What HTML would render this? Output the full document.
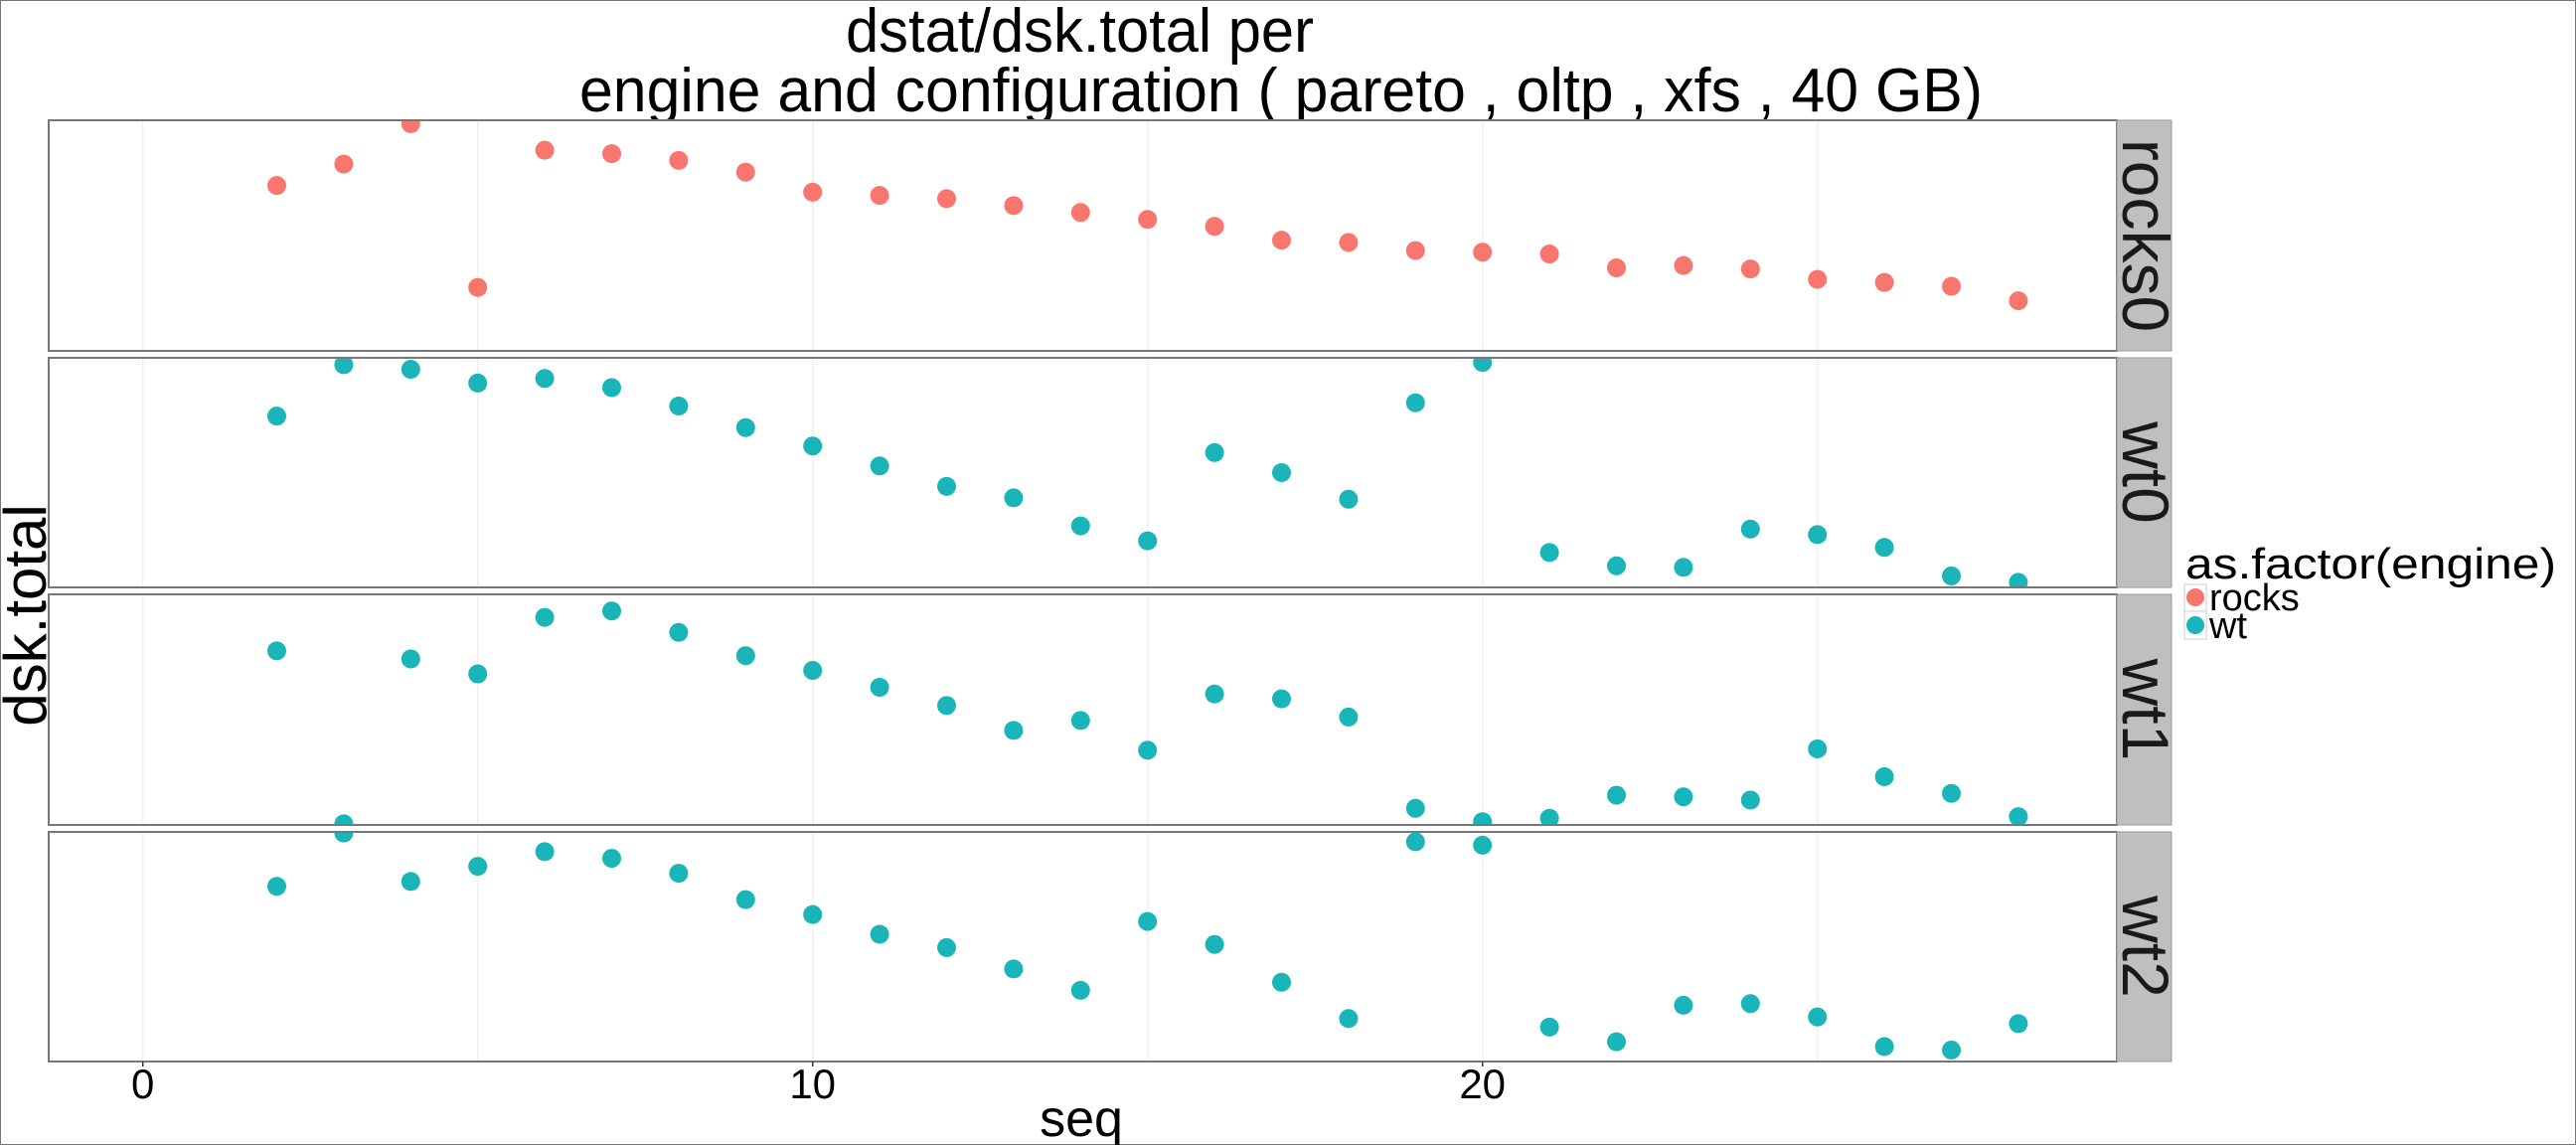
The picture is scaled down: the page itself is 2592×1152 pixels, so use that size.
<!DOCTYPE html>
<html><head><meta charset="utf-8"><style>
html,body{margin:0;padding:0;background:#fff;}
svg{display:block;font-family:"Liberation Sans",sans-serif;}
</style></head><body>
<svg id="chart" width="2592" height="1152" viewBox="0 0 2592 1152" xmlns="http://www.w3.org/2000/svg">
<rect x="0.5" y="0.5" width="2591" height="1151" fill="#fff" stroke="#777" stroke-width="1"/>
<text x="851" y="52" font-size="62" textLength="471" lengthAdjust="spacingAndGlyphs">dstat/dsk.total per</text>
<text x="583" y="112" font-size="62" textLength="1412" lengthAdjust="spacingAndGlyphs">engine and configuration ( pareto , oltp , xfs ,  40 GB)</text>
<text transform="translate(46,619) rotate(-90)" text-anchor="middle" font-size="60">dsk.total</text>
<text x="1088" y="1143" text-anchor="middle" font-size="52">seq</text>
<g id="panels"></g>
<g id="xaxis"></g>
<g>
<text x="2199" y="582" font-size="44" textLength="373" lengthAdjust="spacingAndGlyphs">as.factor(engine)</text>
<rect x="2198" y="588" width="22" height="27" fill="#fff" stroke="#ccc"/>
<circle cx="2209" cy="601" r="9" fill="#F8766D"/>
<text x="2223" y="614" font-size="38">rocks</text>
<rect x="2198" y="615" width="22" height="28" fill="#fff" stroke="#ccc"/>
<circle cx="2209" cy="629" r="9" fill="#1AB5B8"/>
<text x="2223" y="642" font-size="38">wt</text>
</g>
</svg>
<script>
const panelNames = ["rocks0","wt0","wt1","wt2"];
const panelEngines = ["rocks","wt","wt","wt"];
const seqRocks0 = [2,3,4,5,6,7,8,9,10,11,12,13,14,15,16,17,18,19,20,21,22,23,24,25,26,27,28];
const valRocks0 = [71.7,81,98.5,27.5,87,85.5,82.6,77.5,68.8,67.4,66,63,60,57,54,48,47,43.5,42.8,42,36,37,35.5,31,29.7,28,21.7];
const seqWt0 = [2,3,4,5,6,7,8,9,10,11,12,13,14,15,16,17,18,19,20,21,22,23,24,25,26,27,28];
const valWt0 = [74.6,97,95,89,91,87,79,69.6,61.6,52.9,44,39,26.8,20.3,58.7,50,38.4,80.4,98,15.2,9.4,8.7,25.4,23,17.4,5,2.2];
const seqWt1 = [2,3,4,5,6,7,8,9,10,11,12,13,14,15,16,17,18,19,20,21,22,23,24,25,26,27,28];
const valWt1 = [75.5,0.5,72,65.5,90,92.8,83.5,73.4,67,59.7,51.8,41,45.3,32.4,56.8,54.7,46.8,7.2,1.4,2.9,12.9,12.2,10.8,33,20.9,13.7,3.6];
const seqWt2 = [2,3,4,5,6,7,8,9,10,11,12,13,14,15,16,17,18,19,20,21,22,23,24,25,26,27,28];
const valWt2 = [76.3,99.5,78.4,85,91.4,88.5,82,70.5,64,55.4,49.6,40.3,31,61,51,34.5,18.7,95.7,94.2,15,8.6,24.5,25.2,19.4,6.5,5,16.5];
const xTicks = [0,10,20];
const xGrid = [0,5,10,15,20,25];

const seqs=[seqRocks0,seqWt0,seqWt1,seqWt2];
const vals=[valRocks0,valWt0,valWt1,valWt2];
const colors={rocks:"#F8766D",wt:"#1AB5B8"};
const NS="http://www.w3.org/2000/svg";
const PL=49, PR=2130, SR=2185;
const tops=[121,360,598,837], bots=[353,591,830,1068];
function xs(v){return 143.7+v*67.4;}
function ys(v,i){return bots[i]-v/100*(bots[i]-tops[i]);}
function mk(t,a,p){const e=document.createElementNS(NS,t);for(const k in a)e.setAttribute(k,a[k]);p.appendChild(e);return e;}
const panels=document.getElementById('panels');
const defs=mk('defs',{},panels);
panelNames.forEach((nm,i)=>{
  const cp=mk('clipPath',{id:'cp'+i},defs);
  mk('rect',{x:PL,y:tops[i],width:PR-PL,height:bots[i]-tops[i]},cp);
  const g=mk('g',{},panels);
  
  
  mk('rect',{x:PL,y:tops[i],width:PR-PL,height:bots[i]-tops[i],fill:'#fff'},g);
  xGrid.forEach(t=>{
    const l=mk('line',{x1:xs(t),x2:xs(t),y1:tops[i],y2:bots[i],stroke:'#f0f0f0','stroke-width':1.5},g);
    
    
  });
  const pg=mk('g',{'clip-path':'url(#cp'+i+')'},g);
  seqs[i].forEach((s,j)=>{
    const c=mk('circle',{cx:xs(s),cy:ys(vals[i][j],i),r:9.5,fill:colors[panelEngines[i]]},pg);
    
    
  });
  mk('rect',{x:PL,y:tops[i],width:PR-PL,height:bots[i]-tops[i],fill:'none',stroke:'#777','stroke-width':2},g);
  const st=mk('rect',{x:PR,y:tops[i],width:SR-PR,height:bots[i]-tops[i],fill:'#bfbfbf',stroke:'#999','stroke-width':1},g);
  
  
  const cy=(tops[i]+bots[i])/2;
  const tx=mk('text',{transform:'translate(2136,'+cy+') rotate(90)','text-anchor':'middle','font-size':66,fill:'#1a1a1a'},g);
  tx.textContent=nm;
  
  
});
const xa=document.getElementById('xaxis');
xTicks.forEach(t=>{
  const l=mk('line',{x1:xs(t),x2:xs(t),y1:1068,y2:1073,stroke:'#333','stroke-width':1.5},xa);
  
  
  const tx=mk('text',{x:xs(t),y:1105,'text-anchor':'middle','font-size':42},xa);
  tx.textContent=t;
  
  
});
</script>
</body></html>
